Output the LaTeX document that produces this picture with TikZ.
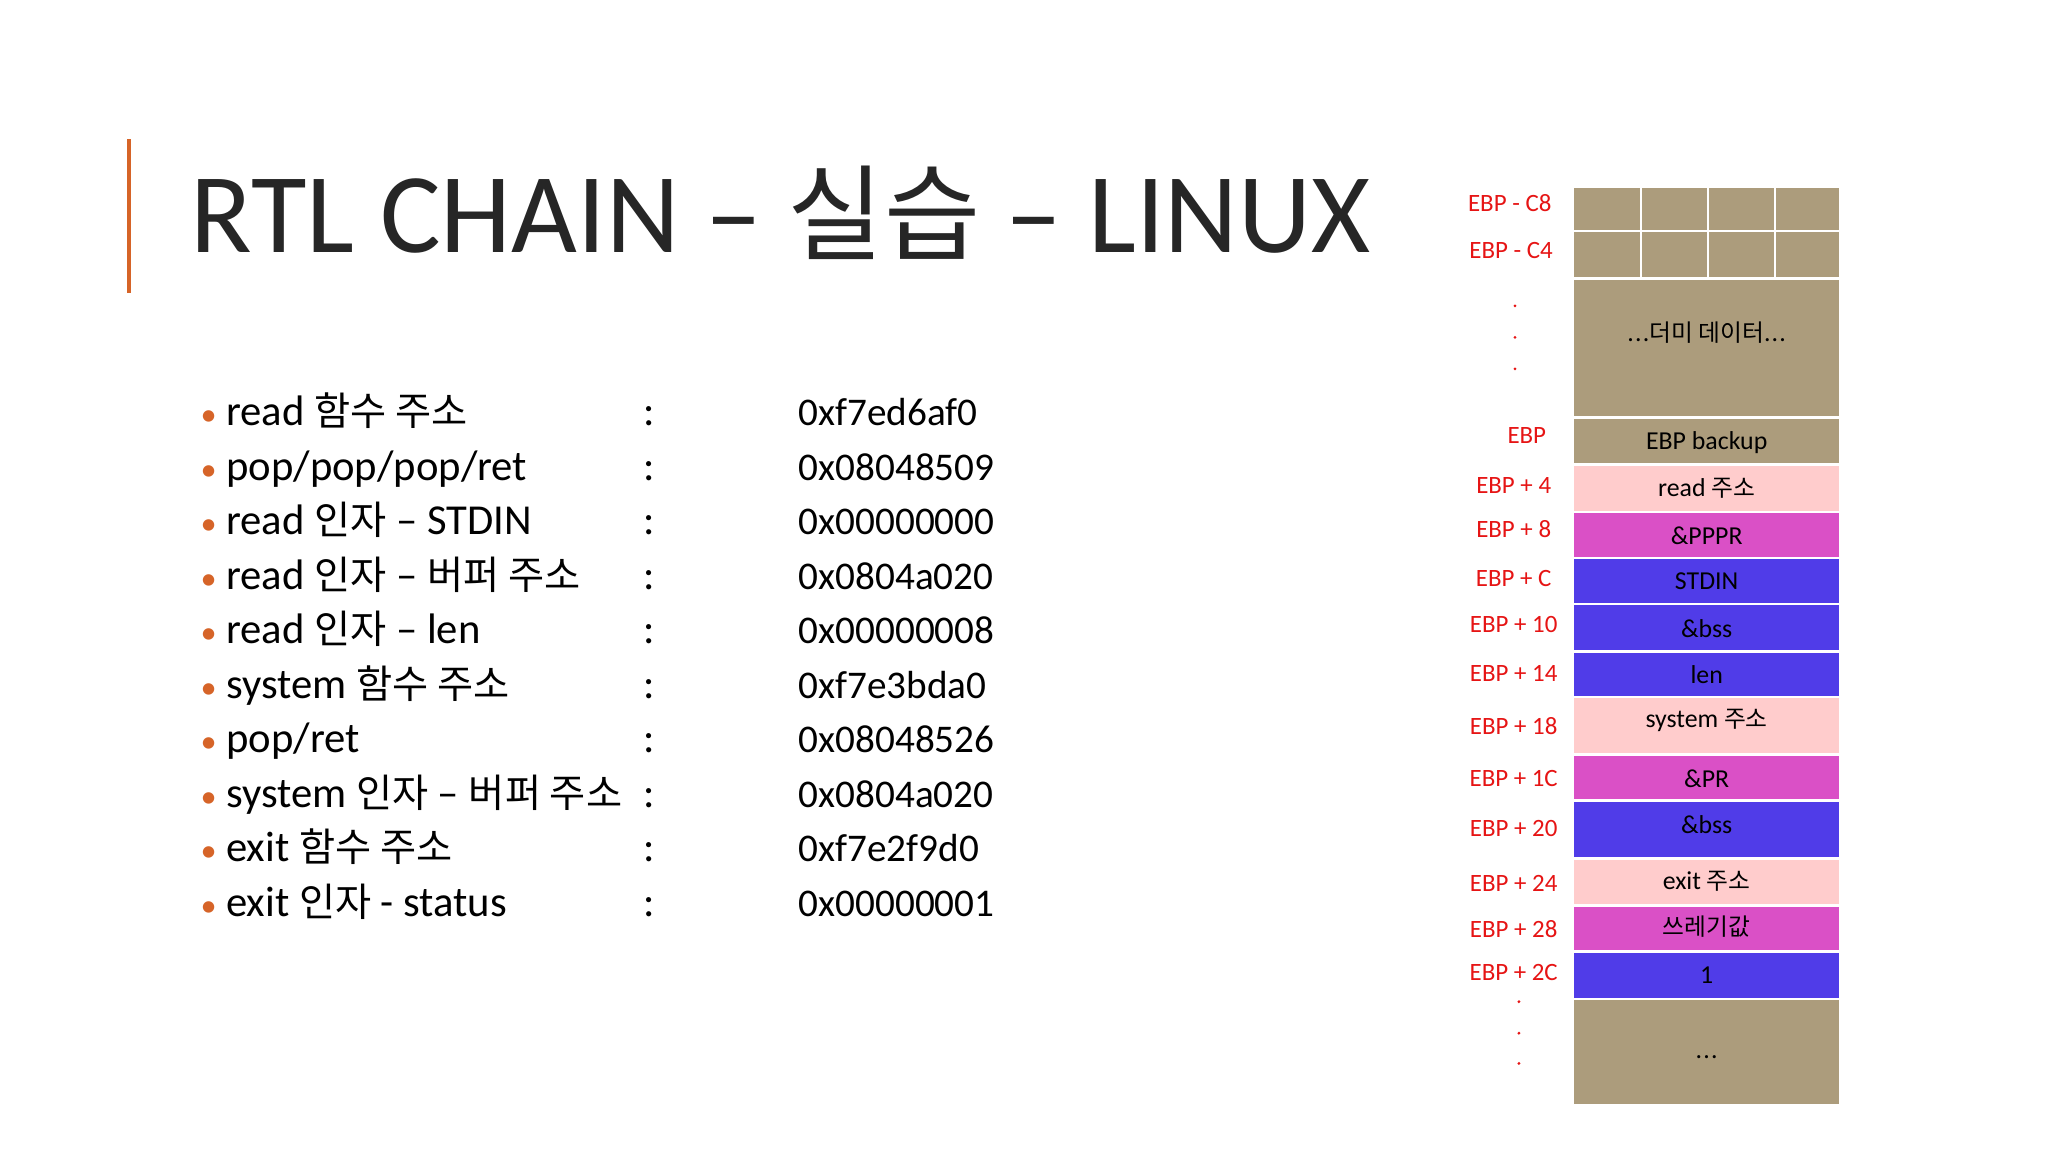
\documentclass[tikz,border=0pt]{standalone}
\usepackage{fontspec}
\setmainfont{Carlito}
\newfontfamily\kr{Noto Sans CJK KR}
\newcommand{\K}[1]{{\kr\fontsize{0.92em}{1em}\selectfont #1}}
\definecolor{tan}{RGB}{172,156,124}
\definecolor{pinkc}{RGB}{255,204,204}
\definecolor{magc}{RGB}{218,80,198}
\definecolor{bluec}{RGB}{80,60,232}
\definecolor{orangec}{RGB}{214,100,40}
\definecolor{redc}{RGB}{230,20,20}
\newcommand{\dd}{.\kern0.5pt.\kern0.5pt.}
\begin{document}
\begin{tikzpicture}[x=0.02cm,y=-0.02cm,
  item/.style={anchor=base west,font=\fontsize{18.5}{22}\selectfont,inner sep=0},
  val/.style={anchor=base west,font=\fontsize{17}{22}\selectfont,inner sep=0},
  bul/.style={anchor=base,font=\fontsize{14}{22}\selectfont,text=orangec,inner sep=0},
  lbl/.style={font=\fontsize{10.8}{13}\selectfont,text=redc,inner sep=0},
  cell/.style={draw=white,line width=1.2pt},
  ctext/.style={font=\fontsize{11.2}{13}\selectfont,inner sep=0}]
\useasboundingbox (0,0) rectangle (1560,877.5);
\fill[white] (0,0) rectangle (1560,877.5);
\draw[orangec,line width=1.6pt] (98,106) -- (98,223);
\node[anchor=base west,inner sep=0,font=\fontsize{49.3}{56}\selectfont,text=black!85] (title) at (145,192) {RTL CHAIN – \K{실습} – LINUX};
% list
\foreach \y/\t/\v [count=\i] in {
 324/{read \K{함수 주소}}/0xf7ed6af0,
 366/{pop/pop/pop/ret}/0x08048509,
 407/{read \K{인자} – STDIN}/0x00000000,
 449/{read \K{인자} – \K{버퍼 주소}}/0x0804a020,
 490/{read \K{인자} – len}/0x00000008,
 532/{system \K{함수 주소}}/0xf7e3bda0,
 573/{pop/ret}/0x08048526,
 615/{system \K{인자} – \K{버퍼 주소}}/0x0804a020,
 656/{exit \K{함수 주소}}/0xf7e2f9d0,
 698/{exit \K{인자} - status}/0x00000001}{
  \node[bul] (b\i) at (159,\y) {•};
  \node[item] (t\i) at (172,\y) {\t};
  \node[item] (c\i) at (490,\y) {:};
  \node[val] (v\i) at (608,\y) {\v};
}
% stack
\foreach \a/\b/\c in {212/318/tan,318/354/tan,354/390/pinkc,390/425/magc,425/460/bluec,460/496/bluec,496/531/bluec,531/575/pinkc,575/610/magc,610/654/bluec,654/690/pinkc,690/725/magc,725/761/bluec,761/842/tan}
  \draw[cell,fill=\c] (1198,\a) rectangle (1402,\b);
\foreach \y/\t [count=\i] in {253/{\dd\K{더미 데이터}\dd},337/EBP backup,372/{read \K{주소}},408/\&PPPR,443/STDIN,479/\&bss,514/len,549/{system \K{주소}},593/\&PR,628/\&bss,671/{exit \K{주소}},706/{\K{쓰레기값}},743/1,805/{\dd}}
  \node[ctext] (s\i) at (1300,\y) {\t};
\foreach \y/\t [count=\i] in {370/EBP + 4,403/EBP + 8,441/EBP + C,476/EBP + 10,513/EBP + 14,553/EBP + 18,593/EBP + 1C,631/EBP + 20,673/EBP + 24,708/EBP + 28,741/EBP + 2C}
  \node[lbl] (l\i) at (1153,\y) {\t};
\node[lbl] (la) at (1163,332) {EBP};
\foreach \ya/\yb in {142/176,176/212}{
  \foreach \xa/\xb in {1198/1250,1250/1301,1301/1352,1352/1402}
    \draw[cell,fill=tan] (\xa,\ya) rectangle (\xb,\yb);
}
\node[lbl] (c8) at (1150,155) {EBP - C8};
\node[lbl] (c4) at (1151,191) {EBP - C4};
\foreach \y in {233,257,281} \fill[redc] (1154,\y) circle (1.2);
\foreach \y in {763,787,810} \fill[redc] (1157,\y) circle (1.2);
\end{tikzpicture}
\end{document}
